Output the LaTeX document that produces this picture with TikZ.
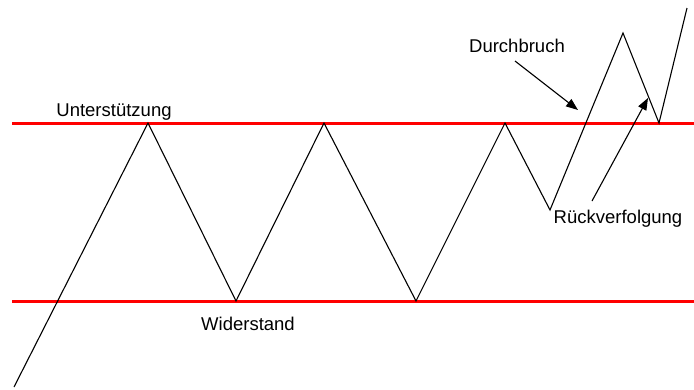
\documentclass[tikz,border=0pt]{standalone}
\usepackage{fontspec}
\setmainfont{Liberation Sans}
\usetikzlibrary{arrows.meta}
\begin{document}
\begin{tikzpicture}[x=1pt,y=-1pt,
  level/.style={draw=red,line width=3pt},
  price/.style={draw=black,line width=1.1pt,line join=miter},
  lbl/.style={font=\fontsize{18.5}{20}\selectfont,inner sep=0pt,anchor=base},
  pointer/.style={draw=black,line width=1.1pt,-{Triangle[length=12pt,width=9pt]}}]
\useasboundingbox (0,0) rectangle (694,389);
% level lines
\coordinate (s1) at (12,123); \coordinate (s2) at (694,123);
\coordinate (r1) at (12,301); \coordinate (r2) at (694,301);
\draw[level] (s1) -- (s2);
\draw[level] (r1) -- (r2);
% price path
\coordinate (p0) at (14,387);
\coordinate (p1) at (148,123);
\coordinate (p2) at (236,301);
\coordinate (p3) at (324,123);
\coordinate (p4) at (416,301);
\coordinate (p5) at (505,123);
\coordinate (p6) at (550,210);
\coordinate (p7) at (623,33);
\coordinate (p8) at (659,123);
\coordinate (p9) at (687,8);
\draw[price] (p0) -- (p1) -- (p2) -- (p3) -- (p4) -- (p5) -- (p6) -- (p7) -- (p8) -- (p9);
% labels
\node[lbl] (unt) at (114,116) {Unterstützung};
\node[lbl] (wid) at (248,330) {Widerstand};
\node[lbl] (dur) at (517,52) {Durchbruch};
\node[lbl] (rue) at (618,223) {Rückverfolgung};
% pointers
\coordinate (a1s) at (515,61); \coordinate (a1e) at (578,110);
\coordinate (a2s) at (592,201); \coordinate (a2e) at (648,98);
\draw[pointer] (a1s) -- (a1e);
\draw[pointer] (a2s) -- (a2e);
\end{tikzpicture}
\end{document}
